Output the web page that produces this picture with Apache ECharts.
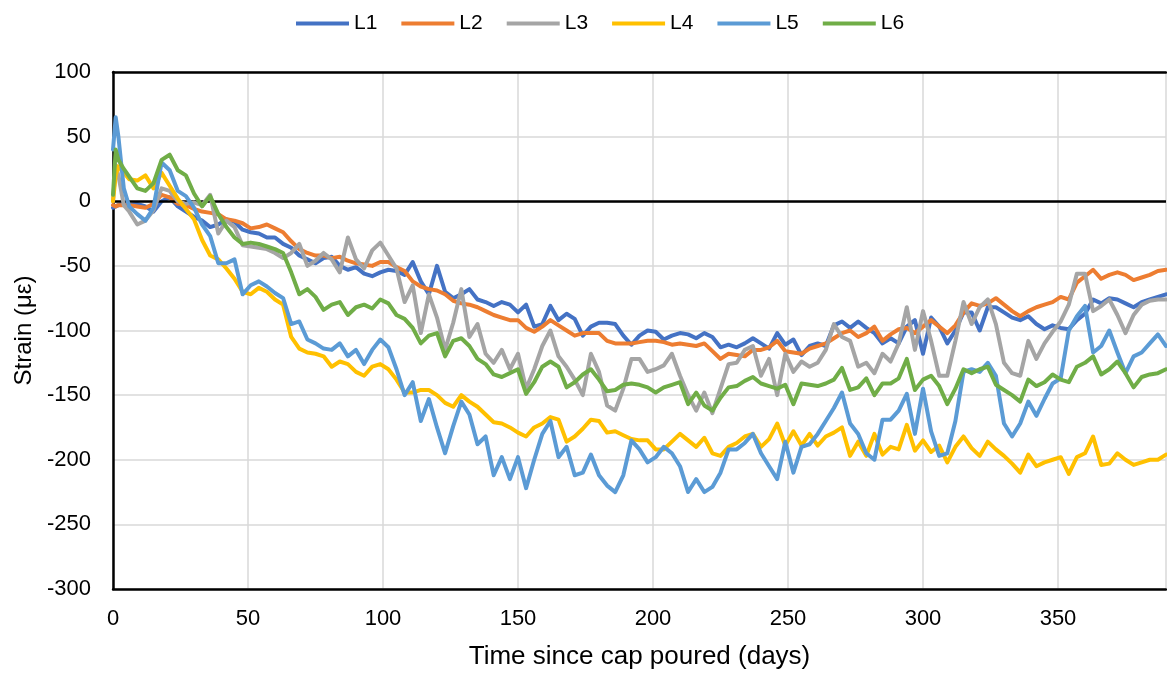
<!DOCTYPE html>
<html>
<head>
<meta charset="utf-8">
<script src="https://cdn.jsdelivr.net/npm/echarts@6/dist/echarts.min.js"></script>
<style>html,body{margin:0;padding:0;background:#fff}#c{width:1167px;height:675px}</style>
</head>
<body>
<div id="c"></div>
<script>
// Time since cap poured (days)
const days = [0, 1, 2, 4,
  6, 9, 12, 15, 18, 21, 24, 27, 30, 33,
  36, 39, 42, 45, 48, 51, 54, 57, 60, 63,
  66, 69, 72, 75, 78, 81, 84, 87, 90, 93,
  96, 99, 102, 105, 108, 111, 114, 117, 120, 123,
  126, 129, 132, 135, 138, 141, 144, 147, 150, 153,
  156, 159, 162, 165, 168, 171, 174, 177, 180, 183,
  186, 189, 192, 195, 198, 201, 204, 207, 210, 213,
  216, 219, 222, 225, 228, 231, 234, 237, 240, 243,
  246, 249, 252, 255, 258, 261, 264, 267, 270, 273,
  276, 279, 282, 285, 288, 291, 294, 297, 300, 303,
  306, 309, 312, 315, 318, 321, 324, 327, 330, 333,
  336, 339, 342, 345, 348, 351, 354, 357, 360, 363,
  366, 369, 372, 375, 378, 381, 384, 387, 390];

const seriesNames = ['L1', 'L2', 'L3', 'L4', 'L5', 'L6'];

const L1 = [-5, -4, -3, -2,
  -3, -2, -4, -8, 0, 3, -4, -8, -12, -15,
  -20, -18, -14, -16, -22, -24, -25, -28, -28, -33,
  -36, -42, -45, -48, -44, -43, -50, -53, -51, -56,
  -58, -55, -53, -54, -57, -47, -62, -72, -50, -70,
  -75, -72, -68, -76, -78, -81, -78, -80, -86, -80,
  -97, -95, -81, -92, -87, -91, -104, -97, -94, -94,
  -95, -104, -111, -104, -100, -101, -107, -104, -102, -103,
  -106, -102, -105, -113, -111, -113, -110, -106, -110, -114,
  -102, -111, -107, -119, -112, -110, -112, -96, -93, -98,
  -93, -98, -102, -110, -106, -110, -97, -92, -118, -90,
  -97, -110, -100, -86, -86, -100, -82, -82, -86, -90,
  -92, -89, -95, -99, -96, -98, -99, -92, -87, -76,
  -79, -75, -76, -79, -82, -78, -76, -74, -72];

const L2 = [-3, -4, -3, -3,
  -3, -4, -5, -2, 5, 3, -2, -3, -6, -8,
  -9, -10, -14, -15, -17, -21, -20, -18, -21, -24,
  -31, -37, -40, -42, -42, -44, -43, -46, -48, -49,
  -50, -47, -47, -51, -54, -62, -66, -68, -69, -72,
  -77, -79, -80, -82, -85, -88, -90, -92, -92, -98,
  -101, -97, -92, -96, -100, -104, -102, -102, -102, -108,
  -110, -110, -110, -109, -108, -108, -109, -111, -110, -111,
  -112, -110, -116, -122, -118, -119, -120, -115, -115, -113,
  -108, -116, -117, -118, -114, -112, -110, -106, -102, -100,
  -105, -102, -97, -108, -103, -99, -98, -102, -97, -92,
  -97, -102, -96, -86, -79, -81, -79, -75, -80, -85,
  -89, -85, -82, -80, -78, -74, -76, -63, -58, -53,
  -60, -57, -55, -57, -61, -59, -57, -54, -53];

const L3 = [0, 28, 20, -3,
  -8, -18, -15, -7, 10, 8, 0, -2, -1, -3,
  5, -25, -15, -20, -34, -35, -36, -37, -40, -44,
  -40, -33, -50, -46, -40, -45, -55, -28, -45, -52,
  -38, -32, -42, -52, -78, -65, -102, -72, -90, -115,
  -94, -68, -105, -95, -118, -125, -115, -130, -118, -145,
  -130, -112, -100, -120, -128, -138, -150, -118, -132, -158,
  -162, -145, -122, -122, -132, -130, -127, -118, -135, -150,
  -162, -148, -164, -145, -126, -125, -115, -112, -135, -122,
  -150, -118, -132, -124, -128, -125, -115, -95, -105, -108,
  -128, -125, -133, -118, -124, -110, -82, -115, -85, -108,
  -135, -135, -108, -78, -95, -82, -76, -95, -125, -133,
  -135, -108, -122, -110, -101, -93, -80, -56, -56, -85,
  -81, -76, -88, -102, -88, -80, -77, -76, -76];

const L4 = [0, 20, 27, 22,
  17, 16, 20, 10, 22, 12, 2, -6, -14, -30,
  -42, -45, -52, -60, -70, -72, -67, -70, -76, -80,
  -105, -114, -117, -118, -120, -128, -124, -126, -132, -135,
  -128, -126, -130, -138, -148, -148, -146, -146, -150, -156,
  -159, -150, -155, -159, -165, -171, -172, -175, -179, -182,
  -175, -172, -167, -169, -186, -182, -176, -169, -170, -179,
  -178, -181, -184, -185, -185, -192, -192, -186, -180, -185,
  -190, -183, -195, -197, -190, -187, -182, -180, -190, -184,
  -172, -189, -178, -189, -180, -189, -182, -179, -175, -197,
  -186, -197, -180, -196, -190, -192, -173, -193, -185, -194,
  -189, -202, -190, -182, -191, -197, -186, -192, -197, -203,
  -210, -196, -205, -202, -200, -198, -211, -198, -195, -182,
  -204, -203, -195, -200, -204, -202, -200, -200, -196];

const L5 = [40, 65, 50, 10,
  -4, -10, -15, -5, 30, 24, 8, 4, -5, -18,
  -27, -48, -48, -45, -72, -65, -62, -66, -71, -75,
  -95, -93, -107, -110, -114, -115, -110, -120, -115, -126,
  -115, -107, -113, -130, -150, -140, -170, -153, -175, -195,
  -174, -155, -165, -188, -182, -212, -198, -215, -198, -222,
  -200, -180, -170, -198, -190, -212, -210, -196, -212, -220,
  -225, -212, -185, -192, -202, -198, -190, -195, -205, -225,
  -215, -225, -221, -210, -192, -192, -187, -180, -195, -205,
  -215, -186, -210, -190, -188, -180, -170, -160, -148, -172,
  -180, -195, -200, -169, -169, -162, -149, -180, -145, -178,
  -197, -195, -170, -132, -130, -132, -125, -135, -172, -182,
  -172, -155, -166, -153, -141, -137, -100, -89, -81, -117,
  -112, -100, -117, -133, -120, -117, -110, -103, -112];

const L6 = [5, 40, 32, 25,
  19, 10, 8, 14, 32, 36, 24, 20, 6, -4,
  4, -10, -20, -28, -33, -32, -33, -35, -37, -40,
  -55, -72, -68, -74, -84, -80, -78, -88, -82, -80,
  -83, -76, -79, -88, -91, -98, -110, -104, -102, -120,
  -108, -106, -112, -122, -126, -134, -136, -133, -130, -149,
  -140, -128, -124, -128, -144, -140, -134, -130, -138, -147,
  -146, -142, -141, -142, -144, -148, -144, -142, -140, -157,
  -148, -158, -162, -152, -144, -143, -139, -136, -141, -143,
  -145, -142, -157, -141, -142, -143, -141, -138, -129, -146,
  -144, -137, -150, -141, -141, -137, -122, -146, -138, -135,
  -143, -157, -145, -130, -133, -130, -128, -142, -146, -150,
  -155, -138, -143, -140, -134, -138, -140, -128, -125, -120,
  -134, -130, -124, -133, -144, -136, -134, -133, -130];

const seriesValues = [L1, L2, L3, L4, L5, L6];
const colors = ['#4472C4', '#ED7D31', '#A5A5A5', '#FFC000', '#5B9BD5', '#70AD47'];

const chart = echarts.init(document.getElementById('c'), null, {renderer: 'canvas'});
const FONT = 'Liberation Sans, Arial, sans-serif';

const series = seriesNames.map((name, k) => ({
  name: name,
  type: 'line',
  showSymbol: false,
  symbol: 'none',
  data: days.map((d, i) => [d, seriesValues[k][i]]),
  lineStyle: {width: 4, color: colors[k], join: 'round', cap: 'round'},
  itemStyle: {color: colors[k]},
  z: 3 + k,
  markLine: k === 0 ? {
    silent: true,
    symbol: ['none', 'none'],
    label: {show: false},
    lineStyle: {color: '#000', width: 2.5, type: 'solid'},
    data: [{yAxis: 0}]
  } : undefined
}));

chart.setOption({
  animation: false,
  backgroundColor: '#fff',
  color: colors,
  legend: {
    data: seriesNames,
    left: 291,
    top: 8,
    icon: 'rect',
    itemWidth: 53,
    itemHeight: 4,
    itemGap: 24,
    textStyle: {fontFamily: FONT, fontSize: 21, color: '#000'}
  },
  grid: {left: 113, right: 1, top: 72, bottom: 84, containLabel: false},
  xAxis: [{
    type: 'value',
    min: 0, max: 390, interval: 50,
    name: 'Time since cap poured (days)',
    nameLocation: 'middle',
    nameGap: 55,
    nameTextStyle: {fontFamily: FONT, fontSize: 26, color: '#000'},
    axisLine: {onZero: false, lineStyle: {color: '#000', width: 2.5}},
    axisTick: {show: false},
    axisLabel: {fontFamily: FONT, fontSize: 22, color: '#000', margin: 19, showMaxLabel: false},
    splitLine: {show: true, lineStyle: {color: '#D9D9D9', width: 1.5}}
  }, {
    type: 'value', position: 'top',
    min: 0, max: 390,
    axisLine: {onZero: false, lineStyle: {color: '#000', width: 2.5}},
    axisTick: {show: false}, axisLabel: {show: false}, splitLine: {show: false}
  }],
  yAxis: {
    type: 'value',
    min: -300, max: 100, interval: 50,
    name: 'Strain (με)',
    nameLocation: 'middle',
    nameGap: 73,
    nameTextStyle: {fontFamily: FONT, fontSize: 24, color: '#000'},
    axisLine: {show: true, onZero: false, lineStyle: {color: '#000', width: 2.5}},
    axisTick: {show: false},
    axisLabel: {fontFamily: FONT, fontSize: 22, color: '#000', margin: 22},
    splitLine: {show: true, lineStyle: {color: '#D9D9D9', width: 1.5}}
  },
  series: series
});
</script>
</body>
</html>
